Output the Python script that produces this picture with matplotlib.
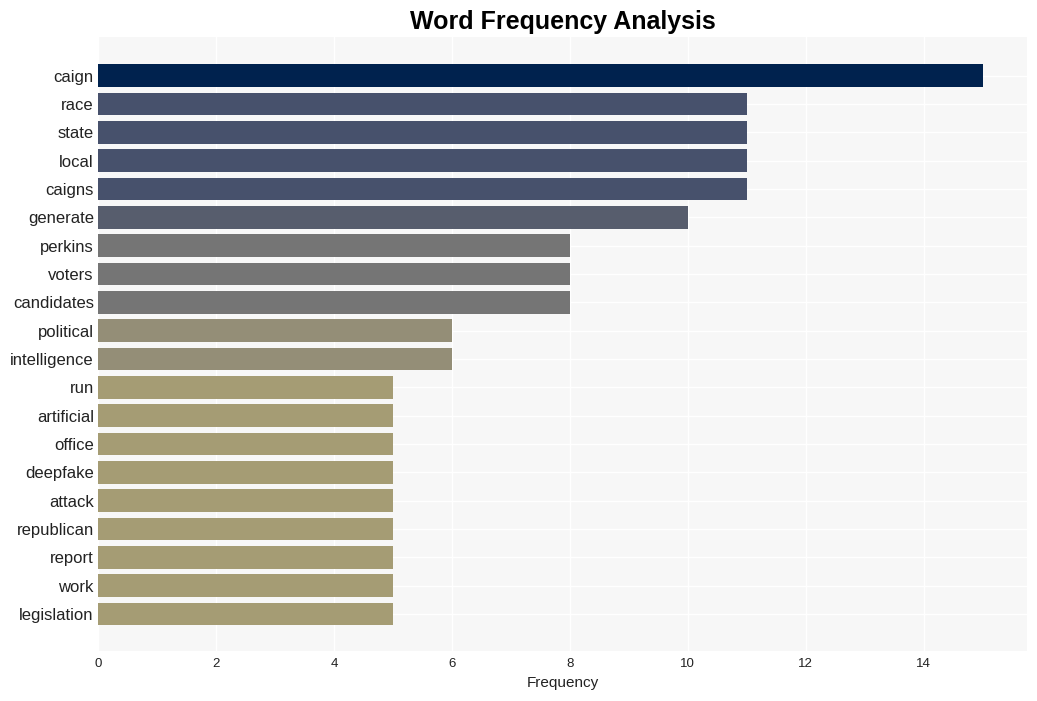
import matplotlib
matplotlib.use("Agg")
import matplotlib.pyplot as plt
import matplotlib.colors as mcolors

plt.rcParams['font.family'] = ['Liberation Sans', 'DejaVu Sans']

words = ['caign', 'race', 'state', 'local', 'caigns', 'generate', 'perkins', 'voters',
         'candidates', 'political', 'intelligence', 'run', 'artificial', 'office',
         'deepfake', 'attack', 'republican', 'report', 'work', 'legislation']
counts = [15, 11, 11, 11, 11, 10, 8, 8, 8, 6, 6, 5, 5, 5, 5, 5, 5, 5, 5, 5]

fig = plt.figure(figsize=(10.37, 7.01), dpi=100)
ax = fig.add_axes([98 / 1037, 50 / 701, 929 / 1037, 614 / 701])
ax.set_facecolor('#f7f7f7')

cmap = plt.get_cmap('cividis_r')
norm = mcolors.Normalize(vmin=0, vmax=max(counts))
ypos = list(range(len(words)))
ax.barh(ypos, counts, height=0.8, color=[cmap(norm(c)) for c in counts], zorder=2)

ax.set_yticks(ypos)
ax.set_yticklabels(words, fontsize=12, color='#222222')
ax.set_ylim(len(words) - 1 + 1.3, -1.36)
ax.set_xlim(0, max(counts) * 1.05)
ax.set_xticks(range(0, 16, 2))
ax.tick_params(axis='x', labelsize=9.5, colors='#222222', length=0, pad=5)
ax.tick_params(axis='y', length=0, pad=3)

ax.grid(True, color='white', linewidth=1, zorder=0)
ax.set_axisbelow(True)
for s in ax.spines.values():
    s.set_visible(False)

ax.set_xlabel('Frequency', fontsize=11, color='#222222', labelpad=4)
ax.set_title('Word Frequency Analysis', fontsize=18, fontweight='bold', pad=6)

fig.savefig('out.png', dpi=100)
